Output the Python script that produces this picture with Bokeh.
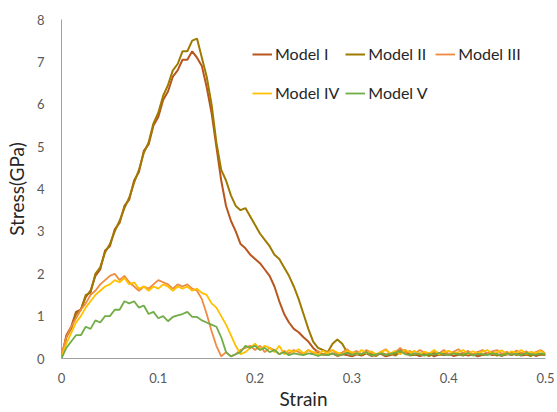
import numpy as np
from bokeh.plotting import figure
from bokeh.models import Range1d, FixedTicker, Legend
from bokeh.embed import file_html
from bokeh.resources import INLINE

# strain sampling grid (0 .. 0.5, step 0.005)
strain = np.round(np.linspace(0.0, 0.5, 101), 3)

model_1 = [
    0.0, 0.55, 0.75, 1.1, 1.15, 1.45, 1.6, 1.95, 2.1, 2.55,
    2.65, 3.05, 3.2, 3.6, 3.75, 4.2, 4.4, 4.9, 5.05, 5.5,
    5.7, 6.1, 6.3, 6.65, 6.8, 7.05, 7.05, 7.25, 7.1, 6.9,
    6.4, 5.8, 5.0, 4.2, 3.6, 3.25, 3.0, 2.7, 2.6, 2.45,
    2.35, 2.25, 2.1, 1.95, 1.7, 1.35, 1.05, 0.85, 0.7, 0.62,
    0.5, 0.4, 0.25, 0.15, 0.1, 0.08, 0.12, 0.06, 0.1, 0.08,
    0.05, 0.1, 0.07, 0.12, 0.06, 0.09, 0.11, 0.05, 0.08, 0.12,
    0.2, 0.15, 0.07, 0.1, 0.06, 0.09, 0.12, 0.05, 0.1, 0.08,
    0.11, 0.06, 0.09, 0.12, 0.07, 0.1, 0.05, 0.09, 0.12, 0.08,
    0.1, 0.06, 0.11, 0.08, 0.12, 0.07, 0.09, 0.11, 0.06, 0.1,
    0.08,
]
model_2 = [
    0.0, 0.5, 0.7, 1.05, 1.15, 1.5, 1.55, 2.0, 2.15, 2.5,
    2.7, 3.0, 3.25, 3.55, 3.8, 4.15, 4.45, 4.85, 5.1, 5.55,
    5.8, 6.2, 6.45, 6.8, 6.95, 7.25, 7.25, 7.5, 7.55, 7.1,
    6.65, 6.0, 5.1, 4.45, 4.2, 3.85, 3.6, 3.5, 3.55, 3.35,
    3.15, 2.95, 2.8, 2.65, 2.45, 2.35, 2.15, 1.95, 1.7, 1.4,
    1.05, 0.7, 0.4, 0.25, 0.2, 0.15, 0.35, 0.45, 0.35, 0.15,
    0.1, 0.12, 0.08, 0.15, 0.1, 0.06, 0.14, 0.09, 0.12, 0.07,
    0.15, 0.2, 0.1, 0.08, 0.12, 0.1, 0.06, 0.13, 0.09, 0.11,
    0.08, 0.14, 0.1, 0.07, 0.12, 0.09, 0.15, 0.08, 0.1, 0.13,
    0.07, 0.11, 0.09, 0.14, 0.08, 0.12, 0.1, 0.06, 0.13, 0.09,
    0.1,
]
model_3 = [
    0.1, 0.5, 0.75, 0.95, 1.15, 1.3, 1.5, 1.6, 1.75, 1.85,
    1.95, 2.0, 1.85, 1.95, 1.8, 1.7, 1.6, 1.7, 1.65, 1.75,
    1.85, 1.8, 1.75, 1.65, 1.75, 1.7, 1.75, 1.65, 1.6, 1.4,
    1.05, 0.65, 0.3, 0.05, 0.15, 0.05, 0.1, 0.2, 0.25, 0.3,
    0.2, 0.3, 0.15, 0.25, 0.2, 0.1, 0.18, 0.12, 0.2, 0.15,
    0.1, 0.2, 0.12, 0.18, 0.08, 0.15, 0.2, 0.1, 0.14, 0.22,
    0.12, 0.18, 0.1, 0.2, 0.14, 0.08, 0.16, 0.22, 0.1, 0.15,
    0.25, 0.12, 0.18, 0.1, 0.2, 0.14, 0.1, 0.17, 0.12, 0.2,
    0.1, 0.16, 0.22, 0.12, 0.18, 0.1, 0.15, 0.2, 0.12, 0.17,
    0.2, 0.11, 0.16, 0.1, 0.19, 0.13, 0.17, 0.1, 0.15, 0.2,
    0.12,
]
model_4 = [
    0.05, 0.35, 0.6, 0.85, 1.0, 1.2, 1.35, 1.5, 1.6, 1.7,
    1.75, 1.85, 1.8, 1.9, 1.75, 1.8, 1.65, 1.7, 1.6, 1.7,
    1.65, 1.75, 1.7, 1.6, 1.7, 1.65, 1.7, 1.6, 1.65, 1.55,
    1.5, 1.3, 1.2, 1.0, 0.8, 0.55, 0.3, 0.1, 0.15, 0.25,
    0.35, 0.2, 0.3, 0.25, 0.15, 0.3, 0.1, 0.2, 0.15, 0.22,
    0.12, 0.2, 0.15, 0.1, 0.18, 0.12, 0.2, 0.14, 0.1, 0.18,
    0.15, 0.1, 0.2, 0.12, 0.17, 0.1, 0.15, 0.2, 0.12, 0.18,
    0.1, 0.2, 0.14, 0.18, 0.1, 0.16, 0.12, 0.2, 0.1, 0.15,
    0.18, 0.12, 0.15, 0.2, 0.1, 0.17, 0.12, 0.16, 0.2, 0.11,
    0.15, 0.19, 0.1, 0.17, 0.13, 0.2, 0.11, 0.16, 0.12, 0.18,
    0.1,
]
model_5 = [
    0.0, 0.25, 0.4, 0.55, 0.55, 0.75, 0.7, 0.9, 0.85, 1.0,
    1.0, 1.15, 1.15, 1.35, 1.3, 1.35, 1.2, 1.25, 1.05, 1.1,
    0.95, 1.0, 0.88, 0.98, 1.02, 1.05, 1.1, 0.98, 0.98, 0.9,
    0.85, 0.8, 0.75, 0.5, 0.15, 0.05, 0.1, 0.15, 0.3, 0.25,
    0.3, 0.2, 0.25, 0.15, 0.2, 0.1, 0.15, 0.08, 0.12, 0.1,
    0.08, 0.12, 0.1, 0.06, 0.1, 0.08, 0.12, 0.07, 0.1, 0.13,
    0.08, 0.12, 0.1, 0.15, 0.07, 0.1, 0.12, 0.08, 0.11, 0.14,
    0.18, 0.1, 0.08, 0.12, 0.1, 0.07, 0.11, 0.09, 0.13, 0.1,
    0.08, 0.12, 0.1, 0.09, 0.13, 0.07, 0.11, 0.1, 0.08, 0.12,
    0.1, 0.07, 0.12, 0.09, 0.11, 0.08, 0.13, 0.1, 0.09, 0.12,
    0.1,
]

series_names = ["Model I", "Model II", "Model III", "Model IV", "Model V"]
series_values = [model_1, model_2, model_3, model_4, model_5]
series_colors = ["#B8561E", "#9E7B00", "#F08A40", "#FFC000", "#70AD47"]
series_widths = [2.0, 2.0, 1.8, 1.8, 1.8]

x_ticks = [0, 0.1, 0.2, 0.3, 0.4, 0.5]
y_ticks = [0, 1, 2, 3, 4, 5, 6, 7, 8]

FONT = "Lato"

p = figure(width=557, height=412, output_backend="svg", toolbar_location=None,
           x_range=Range1d(0, 0.5), y_range=Range1d(0, 8),
           min_border_left=61, min_border_right=12, min_border_top=19, min_border_bottom=54)
p.xgrid.visible = False
p.ygrid.visible = False
p.outline_line_color = None
p.background_fill_color = "white"
p.border_fill_color = "white"

renderers = []
for name, vals, col, w in zip(series_names, series_values, series_colors, series_widths):
    assert len(vals) == len(strain)
    r = p.line(strain, vals, line_color=col, line_width=w)
    renderers.append((name, [r]))

for ax in (p.xaxis[0], p.yaxis[0]):
    ax.axis_line_color = "#a0a0a0"
    ax.axis_line_width = 1
    ax.major_tick_line_color = None
    ax.minor_tick_line_color = None
    ax.major_label_text_font = FONT
    ax.major_label_text_font_size = "13px"
    ax.major_label_text_color = "#595959"
    ax.axis_label_text_font = FONT
    ax.axis_label_text_font_size = "19px"
    ax.axis_label_text_font_style = "normal"
    ax.axis_label_text_color = "#262626"

p.xaxis.ticker = FixedTicker(ticks=x_ticks)
p.yaxis.ticker = FixedTicker(ticks=y_ticks)
p.xaxis.axis_label = "Strain"
p.yaxis.axis_label = "Stress(GPa)"
p.xaxis.major_label_standoff = 8
p.xaxis.axis_label_standoff = 1
p.yaxis.major_label_standoff = 11
p.yaxis.axis_label_standoff = 6

legend = Legend(items=renderers, orientation="horizontal", nrows=2,
                location=(191, 249))
legend.background_fill_alpha = 0
legend.border_line_color = None
legend.label_text_font = FONT
legend.label_text_font_size = "16px"
legend.label_text_color = "#262626"
legend.glyph_width = 20
legend.glyph_height = 20
legend.label_height = 33
legend.label_width = 61
legend.label_standoff = 3
legend.spacing = 6
legend.padding = 0
legend.margin = 0
p.add_layout(legend, "center")

open("out.html", "w").write(file_html(p, INLINE))
